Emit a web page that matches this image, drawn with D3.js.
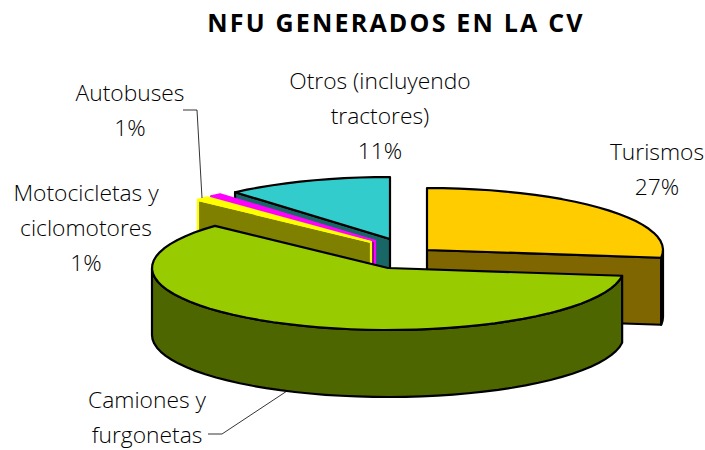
<!DOCTYPE html>
<html>
<head>
<meta charset="utf-8">
<script src="https://cdn.jsdelivr.net/npm/d3@7"></script>
<style>
	html, body {margin: 0; padding: 0; background: #fff;}
	svg {display: block;}
</style>
</head>
<body>
<div id="vis"></div>
<script>
const FRAME_WIDTH = 705;
const FRAME_HEIGHT = 450;

// data, in pie order (clockwise from 12 o'clock)
const CATEGORIES = ["Turismos", "Camiones y furgonetas", "Motocicletas y ciclomotores", "Autobuses", "Otros (incluyendo tractores)"];
const VALUES = [27, 59.9, 0.9, 0.8, 11.4];
const PERCENT_LABELS = ["27%", "", "1%", "1%", "11%"];
const TITLE = "NFU GENERADOS EN LA CV";

const TOP_COLORS = ["#FFCC00", "#99CC00", "#FFFF00", "#FF00FF", "#33CCCC"];
const SIDE_COLORS = ["#806600", "#4D6600", "#808000", "#800080", "#196666"];
const STROKES = ["#000", "#000", "#FFFF00", "#FF00FF", "#000"];

// 3d look of the pie
const RX = 236;
const RY = 62;
const DEPTH = 67;
const CENTER = {x: 400, y: 250};
// how far each slice is pulled out of the pie
const EXPLODE = [[27, 0], [-12, 18], [-29, -8], [-25, -9], [-10, -11]];
// back to front painting order
const DRAW_ORDER = [4, 3, 2, 0, 1];

const LABEL_POS = [
	{x: 657, y: 160, lines: ["Turismos"]},
	{x: 147, y: 408, lines: ["Camiones y", "furgonetas"]},
	{x: 86, y: 201, lines: ["Motocicletas y", "ciclomotores"]},
	{x: 130, y: 101, lines: ["Autobuses"]},
	{x: 380, y: 89, lines: ["Otros (incluyendo", "tractores)"]}
];
const LINE_GAP = 35;

const FRAME = d3.select("#vis")
	.append("svg")
		.attr("width", FRAME_WIDTH)
		.attr("height", FRAME_HEIGHT);

const X_UNIT = d3.scaleLinear().domain([-1, 1]).range([-RX, RX]);
const Y_UNIT = d3.scaleLinear().domain([-1, 1]).range([RY, -RY]);

const pie = d3.pie().sort(null).startAngle(0).endAngle(2 * Math.PI);
const slices = pie(VALUES);

const line = d3.line().x(d => d[0]).y(d => d[1]);

// point on the rim of a slice
function rim(a, ox, oy, drop) {
	return [ox + X_UNIT(Math.sin(a)), oy + Y_UNIT(Math.cos(a)) + drop];
}

function arcPoints(a0, a1, ox, oy, drop) {
	const n = Math.max(2, Math.ceil((a1 - a0) / 0.07));
	return d3.range(n + 1).map(i => rim(a0 + (a1 - a0) * i / n, ox, oy, drop));
}

DRAW_ORDER.forEach((i) => {
	const s = slices[i];
	const ox = CENTER.x + EXPLODE[i][0];
	const oy = CENTER.y + EXPLODE[i][1];
	const g = FRAME.append("g")
		.attr("stroke", STROKES[i])
		.attr("stroke-width", 2.2)
		.attr("stroke-linejoin", "round");

	// cut faces, only the ones turned to the viewer
	const faceAngles = [];
	if (s.startAngle > Math.PI) faceAngles.push(s.startAngle);
	if (s.endAngle < Math.PI) faceAngles.push(s.endAngle);
	faceAngles.forEach((a) => {
		const p = rim(a, ox, oy, 0);
		g.append("path")
			.attr("d", line([[ox, oy], p, [p[0], p[1] + DEPTH], [ox, oy + DEPTH]]) + "Z")
			.attr("fill", SIDE_COLORS[i]);
	});

	// outer wall for the lower half of the ellipse
	const a0 = Math.max(s.startAngle, Math.PI / 2);
	const a1 = Math.min(s.endAngle, 3 * Math.PI / 2);
	if (a1 > a0) {
		const topEdge = arcPoints(a0, a1, ox, oy, 0);
		const bottomEdge = arcPoints(a0, a1, ox, oy, DEPTH).reverse();
		g.append("path")
			.attr("d", line(topEdge.concat(bottomEdge)) + "Z")
			.attr("fill", SIDE_COLORS[i]);
	}

	// top of the slice
	g.append("path")
		.attr("d", line([[ox, oy]].concat(arcPoints(s.startAngle, s.endAngle, ox, oy, 0))) + "Z")
		.attr("fill", TOP_COLORS[i]);
});

// leader lines
const LEADERS = [
	[[183, 110], [197, 110], [202, 198]],
	[[208, 434], [222, 434], [287, 391]]
];
FRAME.selectAll(".leader")
	.data(LEADERS)
	.enter()
	.append("path")
		.attr("class", "leader")
		.attr("d", d => line(d))
		.attr("fill", "none")
		.attr("stroke", "#000")
		.attr("stroke-width", 0.8);

// title
FRAME.append("text")
	.attr("x", 396)
	.attr("y", 32)
	.attr("text-anchor", "middle")
	.attr("font-family", "'Open Sans'")
	.attr("font-weight", "bold")
	.attr("letter-spacing", "2.2px")
	.style("font-size", "25px")
	.attr("fill", "#000")
	.text(TITLE);

// labels
LABEL_POS.forEach((d, i) => {
	const rows = PERCENT_LABELS[i] ? d.lines.concat(PERCENT_LABELS[i]) : d.lines;
	const t = FRAME.append("text")
		.attr("text-anchor", "middle")
		.attr("font-family", "'Open Sans'")
		.attr("font-weight", 300)
		.style("font-size", "22.8px")
		.attr("fill", "#000");
	rows.forEach((r, j) => {
		t.append("tspan")
			.attr("x", d.x)
			.attr("y", d.y + j * LINE_GAP)
			.text(r);
	});
});
</script>
</body>
</html>
